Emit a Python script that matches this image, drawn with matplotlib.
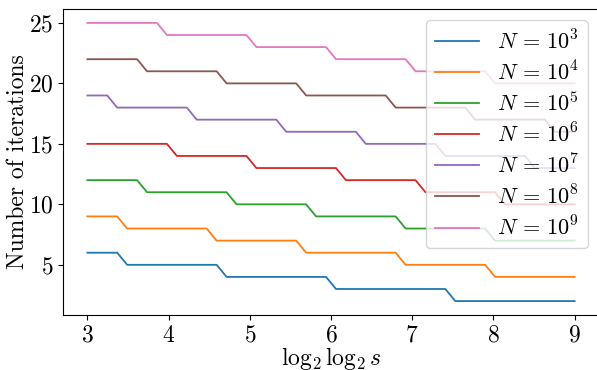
import numpy as np
import matplotlib
matplotlib.use("Agg")
import matplotlib.pyplot as plt

plt.rcParams['mathtext.fontset'] = 'cm'
plt.rcParams['font.family'] = 'serif'
plt.rcParams['font.serif'] = ['cmr10', 'DejaVu Serif']
plt.rcParams['axes.formatter.use_mathtext'] = True

# sample points of log2 log2 s
x = np.linspace(3, 9, 50)

labels = [r'$N\,=\,10^{3}$', r'$N\,=\,10^{4}$', r'$N\,=\,10^{5}$', r'$N\,=\,10^{6}$',
          r'$N\,=\,10^{7}$', r'$N\,=\,10^{8}$', r'$N\,=\,10^{9}$']

iters_1e3 = [6, 6, 6, 6, 5, 5, 5, 5, 5, 5, 5, 5, 5, 5, 4, 4, 4, 4, 4, 4, 4, 4, 4, 4, 4,
             3, 3, 3, 3, 3, 3, 3, 3, 3, 3, 3, 3, 2, 2, 2, 2, 2, 2, 2, 2, 2, 2, 2, 2, 2]
iters_1e4 = [9, 9, 9, 9, 8, 8, 8, 8, 8, 8, 8, 8, 8, 7, 7, 7, 7, 7, 7, 7, 7, 7, 6, 6, 6,
             6, 6, 6, 6, 6, 6, 6, 5, 5, 5, 5, 5, 5, 5, 5, 5, 4, 4, 4, 4, 4, 4, 4, 4, 4]
iters_1e5 = [12, 12, 12, 12, 12, 12, 11, 11, 11, 11, 11, 11, 11, 11, 11, 10, 10, 10, 10, 10, 10, 10, 10, 9, 9,
             9, 9, 9, 9, 9, 9, 9, 8, 8, 8, 8, 8, 8, 8, 8, 8, 7, 7, 7, 7, 7, 7, 7, 7, 7]
iters_1e6 = [15, 15, 15, 15, 15, 15, 15, 15, 15, 14, 14, 14, 14, 14, 14, 14, 14, 13, 13, 13, 13, 13, 13, 13, 13,
             13, 12, 12, 12, 12, 12, 12, 12, 12, 11, 11, 11, 11, 11, 11, 11, 11, 10, 10, 10, 10, 10, 10, 10, 10]
iters_1e7 = [19, 19, 19, 18, 18, 18, 18, 18, 18, 18, 18, 17, 17, 17, 17, 17, 17, 17, 17, 17, 16, 16, 16, 16, 16,
             16, 16, 16, 15, 15, 15, 15, 15, 15, 15, 15, 14, 14, 14, 14, 14, 14, 14, 14, 14, 13, 13, 13, 13, 13]
iters_1e8 = [22, 22, 22, 22, 22, 22, 21, 21, 21, 21, 21, 21, 21, 21, 20, 20, 20, 20, 20, 20, 20, 20, 19, 19, 19,
             19, 19, 19, 19, 19, 19, 18, 18, 18, 18, 18, 18, 18, 18, 17, 17, 17, 17, 17, 17, 17, 17, 16, 16, 16]
iters_1e9 = [25, 25, 25, 25, 25, 25, 25, 25, 24, 24, 24, 24, 24, 24, 24, 24, 24, 23, 23, 23, 23, 23, 23, 23, 23,
             22, 22, 22, 22, 22, 22, 22, 22, 21, 21, 21, 21, 21, 21, 21, 21, 20, 20, 20, 20, 20, 20, 20, 20, 20]

series = [iters_1e3, iters_1e4, iters_1e5, iters_1e6, iters_1e7, iters_1e8, iters_1e9]

fig = plt.figure(figsize=(5.97, 3.70), dpi=100)
ax = fig.add_axes([63 / 597, 55 / 370, 536 / 597, 306 / 370])

for y, lab in zip(series, labels):
    ax.plot(x, y, lw=1.3, label=lab)

ax.set_xticks([3, 4, 5, 6, 7, 8, 9])
ax.set_yticks([5, 10, 15, 20, 25])
ax.tick_params(labelsize=17)
ax.tick_params(axis='x', pad=3.5)
ax.set_xlabel(r'$\log_2\log_2 s$', fontsize=17, labelpad=-1.5)
ax.set_ylabel('Number of iterations', fontsize=17)
ax.yaxis.set_label_coords(-0.063, 0.5)
ax.legend(loc='upper right', fontsize=16, handlelength=2.0, labelspacing=0.32,
          borderaxespad=0.5)

fig.savefig('out.png', dpi=100)
